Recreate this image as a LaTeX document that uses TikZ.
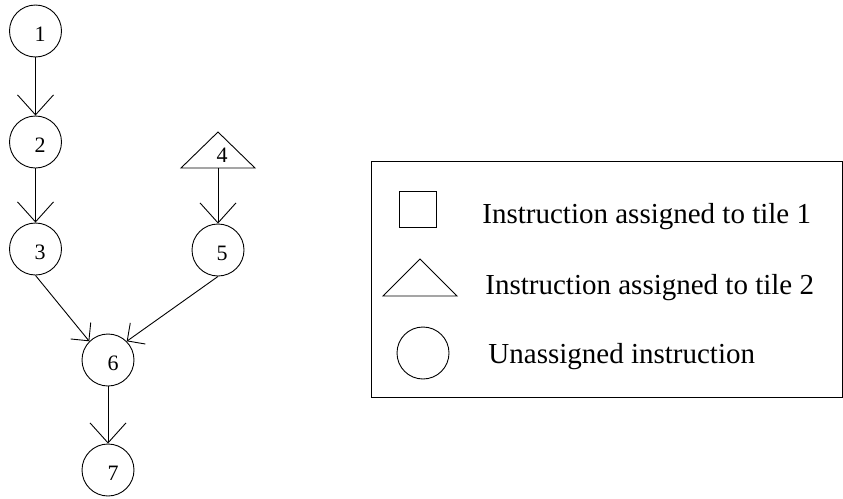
\documentclass[tikz,border=0pt]{standalone}
\usepackage{fontspec}
\setmainfont{Liberation Serif}
\usetikzlibrary{arrows.meta}
\tikzset{
  instr/.style={circle, draw, minimum size=52pt, inner sep=0pt},
  numlbl/.style={font=\fontsize{22}{26}\selectfont, inner sep=0pt},
  legtext/.style={font=\fontsize{29}{34}\selectfont, anchor=base west, inner sep=0pt},
  vtip/.style={-{Straight Barb[length=20pt, width=36pt]}},
  dtip/.style={-{Straight Barb[length=13pt, width=26pt]}},
}
\begin{document}
\begin{tikzpicture}[x=1pt, y=-1pt, line width=0.9pt]
\useasboundingbox (0,0) rectangle (843,498);

% dependence graph
\node (n1) [instr] at (35.5,31) {};
\node (n2) [instr] at (35.5,142) {};
\node (n3) [instr] at (35.5,249) {};
\node (n5) [instr] at (218,250) {};
\node (n6) [instr] at (108,360) {};
\node (n7) [instr] at (108,470) {};
\draw (181,168) -- (218,132) -- (255,168) -- cycle;
\coordinate (n4) at (218,168);

\node (l1) [numlbl] at (40,34) {1};
\node (l2) [numlbl] at (40,145) {2};
\node (l3) [numlbl] at (40,252) {3};
\node (l4) [numlbl] at (222,155) {4};
\node (l5) [numlbl] at (222,253) {5};
\node (l6) [numlbl] at (113,363) {6};
\node (l7) [numlbl] at (113,473) {7};

\draw[vtip] (n1.south) -- (n2.north);
\draw[vtip] (n2.south) -- (n3.north);
\draw[vtip] (n4) -- (n5.north);
\draw[dtip] (n3.south) -- (n6.135);
\draw[dtip] (n5.south) -- (n6.45);
\draw[vtip] (n6.south) -- (n7.north);

% legend
\node (legend) [draw, anchor=north west, inner sep=0pt,
  minimum width=471pt, minimum height=236pt] at (371,161) {};
\node (sq) [draw, minimum width=37pt, minimum height=36pt, inner sep=0pt] at (417.5,209) {};
\draw (383,296) -- (420,259) -- (457,296) -- cycle;
\node (lc) [instr] at (423,353) {};
\node (t1) [legtext] at (482,223) {Instruction assigned to tile 1};
\node (t2) [legtext] at (485,294) {Instruction assigned to tile 2};
\node (t3) [legtext] at (488,363) {Unassigned instruction};
\end{tikzpicture}
\end{document}
